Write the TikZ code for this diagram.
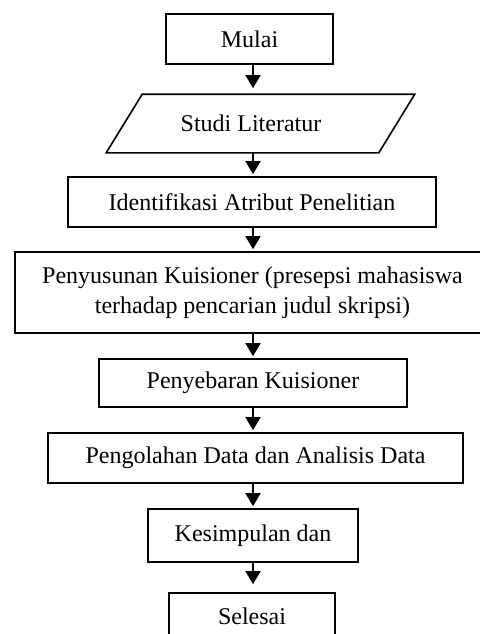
\documentclass[tikz,border=0pt]{standalone}
\usepackage{fontspec}
\setmainfont{Liberation Serif}
\usepackage{tikz}
\usetikzlibrary{positioning,calc,arrows.meta}

\tikzset{
  box/.style={draw, line width=1.6pt, inner sep=0pt, align=center, font=\fontsize{24}{30}\selectfont},
  arr/.style={line width=1.6pt, -{Triangle[width=15pt,length=13pt]}, shorten >=2pt}
}

\begin{document}
\begin{tikzpicture}[x=1pt, y=1pt]
        \useasboundingbox (0,0) rectangle (479,-634);
        \coordinate (axis) at (253,0);

        % Mulai
        \node[box, minimum width=167pt, minimum height=50pt] (mulai) at (249.5,-39) {Mulai};

        % Studi Literatur
        \node[box, draw=none, minimum width=271pt, minimum height=57pt] (studi) at (251,-123.5) {Studi Literatur};
        \draw[line width=1.6pt] ([xshift=-8.5pt]studi.south west) -- ([xshift=-8.5pt]studi.south east)
              -- ([xshift=27.5pt]studi.north east) -- ([xshift=27.5pt]studi.north west) -- cycle;

        % Proses
        \node[box, minimum width=368pt, minimum height=50pt] (atribut) at (252,-202) {Identifikasi Atribut Penelitian};
        \node[box, minimum width=475pt, minimum height=81pt] (kuisioner) at (252.5,-292.5) {Penyusunan Kuisioner (presepsi mahasiswa\\terhadap pencarian judul skripsi)};
        \node[box, minimum width=308pt, minimum height=48pt] (sebar) at (253,-383) {Penyebaran Kuisioner};
        \node[box, minimum width=415pt, minimum height=50pt] (olah) at (255.5,-458) {Pengolahan Data dan Analisis Data};
        \node[box, minimum width=210pt, minimum height=53pt] (simpul) at (253,-535.5) {Kesimpulan dan};

        % Selesai
        \node[box, minimum width=166pt, minimum height=47pt] (selesai) at (252,-616.5) {Selesai};

        % Panah
        \draw[arr, shorten >=6pt] (axis |- mulai.south) -- (axis |- studi.north);
        \draw[arr] (axis |- studi.south) -- (axis |- atribut.north);
        \draw[arr] (axis |- atribut.south) -- (axis |- kuisioner.north);
        \draw[arr] (axis |- kuisioner.south) -- (axis |- sebar.north);
        \draw[arr] (axis |- sebar.south) -- (axis |- olah.north);
        \draw[arr] (axis |- olah.south) -- (axis |- simpul.north);
        \draw[arr, shorten >=8pt] (axis |- simpul.south) -- (axis |- selesai.north);
    \end{tikzpicture}
\end{document}
